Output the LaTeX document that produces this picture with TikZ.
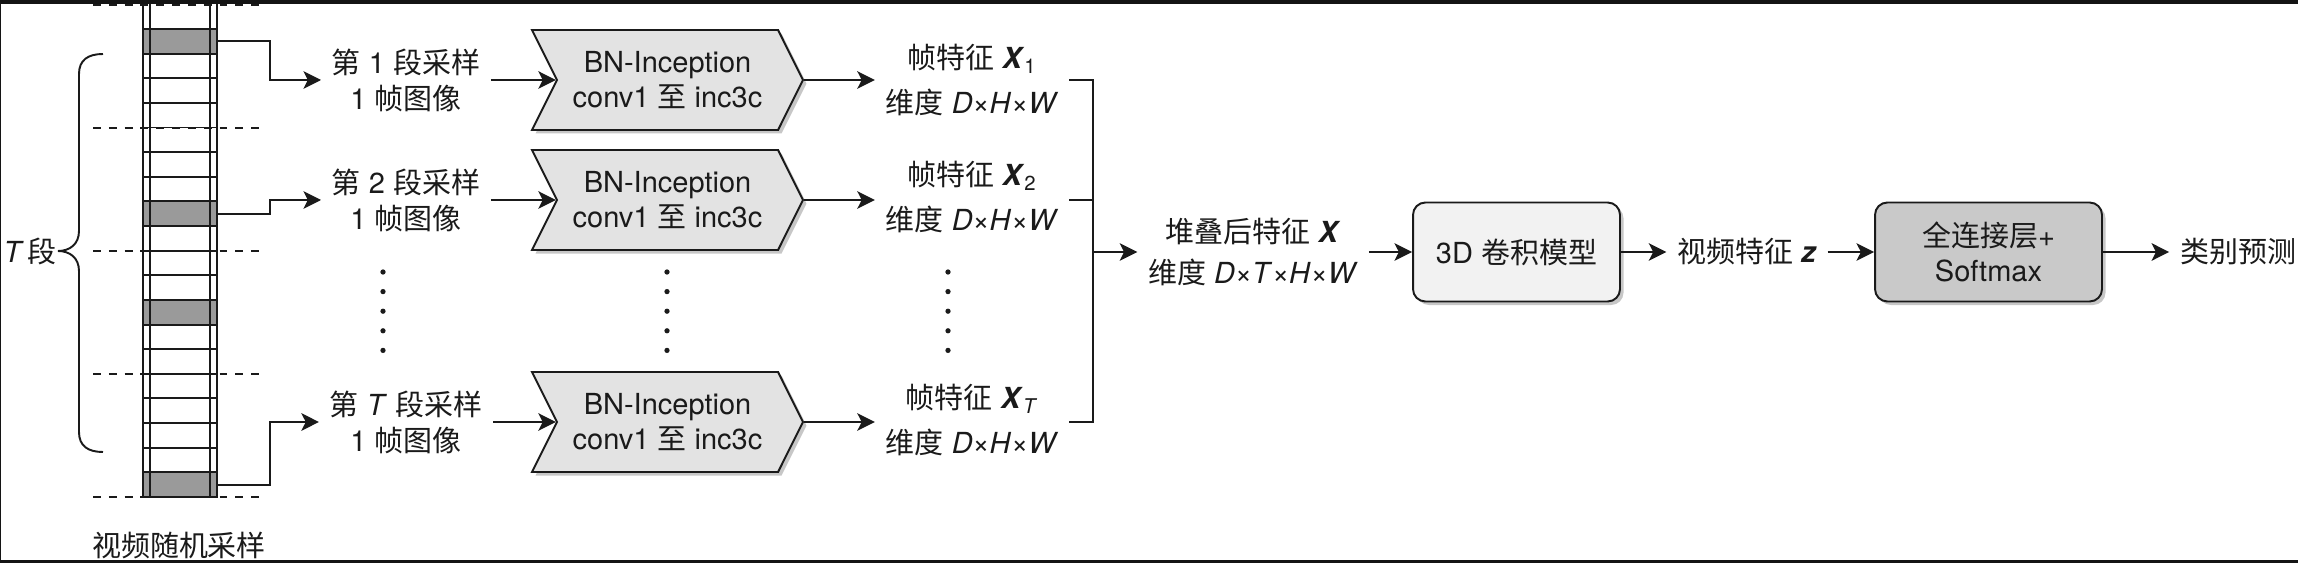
\documentclass[tikz,border=0pt]{standalone}
\usepackage{fontspec}
\setmainfont{TeX Gyre Heros}
\newfontfamily\zhfont{Noto Sans CJK SC}
\usepackage{xcolor}
\usepackage{tikz}
\usetikzlibrary{arrows.meta,shapes.symbols,shadows}
\definecolor{Ink}{HTML}{1A1A1A}
\definecolor{FrameGray}{HTML}{9A9A9A}
\definecolor{StageGray}{HTML}{E3E3E3}
\definecolor{ModelGray}{HTML}{F2F2F2}
\definecolor{HeadGray}{HTML}{C9C9C9}
\newcommand{\zh}[1]{{\zhfont #1}}

\begin{document}
\begin{tikzpicture}[x=0.02cm,y=-0.02cm,>={Stealth[length=10pt,width=10pt,inset=2.5pt]},
  every node/.style={text=Ink},
  link/.style={draw=Ink,line width=1.1pt},
  lbl/.style={align=center,inner sep=6pt,font=\fontsize{16.5}{20.5}\selectfont},
  featlbl/.style={lbl,font=\fontsize{16.5}{25.5}\selectfont},
  stacklbl/.style={lbl,font=\fontsize{16.5}{23.5}\selectfont},
  stage/.style={signal,signal from=west,signal to=east,signal pointer angle=127,
    draw=Ink,line width=1.1pt,fill=StageGray,minimum width=5.42cm,minimum height=2cm,
    align=center,font=\fontsize{16.5}{20}\selectfont,
    drop shadow={shadow xshift=2pt,shadow yshift=-2pt,fill=black,opacity=0.22}},
  model/.style={draw=Ink,line width=1.1pt,rounded corners=7pt,minimum height=1.98cm,
    align=center,font=\fontsize{16.5}{20}\selectfont,
    drop shadow={shadow xshift=2pt,shadow yshift=-2pt,fill=black,opacity=0.22}},
  framecell/.style={fill=FrameGray,minimum width=1.48cm,minimum height=0.4926cm,inner sep=0pt},
  seg/.style={draw=Ink,line width=1.1pt,dash pattern=on 4.5pt off 4.5pt}]
  \useasboundingbox (0,0) rectangle (2298,563);
  \fill[white] (0,0) rectangle (2298,563);

  \node[framecell] (pick1) at (180,41.3) {};
  \node[framecell] (pick2) at (180,213.7) {};
  \node[framecell] (pick3) at (180,312.3) {};
  \node[framecell] (pickT) at (180,484.7) {};
  \draw[link] (143,0) -- (143,497) -- (217,497) -- (217,0);
  \draw[link] (150,0) -- (150,497);
  \draw[link] (210,0) -- (210,497);
  \foreach \k in {0,...,19}
    \draw[link] (143,{29+24.63*\k}) -- (217,{29+24.63*\k});
  \foreach \y in {5,128,251,374,497}
    \draw[seg] (93,\y) -- (263,\y);

  \draw[link] (103,54) .. controls (88,54) and (79,60) .. (79,74) -- (79,231)
    .. controls (79,244) and (70,251) .. (58,251) coordinate (tip)
    .. controls (70,251) and (79,258) .. (79,271) -- (79,432)
    .. controls (79,446) and (88,452) .. (103,452);
  \node[lbl,inner sep=0pt] (nseg) at (30,251) {\textit{T}\hspace{0.12em}\zh{段}};
  \node[lbl] (sampler) at (179,545) {\zh{视频随机采样}};

  \node[lbl] (lab1) at (406,80) {\zh{第} 1 \zh{段采样}\\1 \zh{帧图像}};
  \node[lbl] (lab2) at (406,200) {\zh{第} 2 \zh{段采样}\\1 \zh{帧图像}};
  \node[lbl] (labT) at (406,422) {\zh{第} \textit{T} \zh{段采样}\\1 \zh{帧图像}};

  \node[stage] (bn1) at (667.5,80) {BN-Inception\\conv1 \zh{至} inc3c};
  \node[stage] (bn2) at (667.5,200) {BN-Inception\\conv1 \zh{至} inc3c};
  \node[stage] (bnT) at (667.5,422) {BN-Inception\\conv1 \zh{至} inc3c};

  \node[featlbl] (feat1) at (972,80) {\zh{帧特征} \textbf{\textit{X}}\textsubscript{1}\\\zh{维度} \textit{D}×\textit{H}×\textit{W}};
  \node[featlbl] (feat2) at (972,197) {\zh{帧特征} \textbf{\textit{X}}\textsubscript{2}\\\zh{维度} \textit{D}×\textit{H}×\textit{W}};
  \node[featlbl] (featT) at (972,420) {\zh{帧特征} \textbf{\textit{X}}\textsubscript{\textit{T}}\\\zh{维度} \textit{D}×\textit{H}×\textit{W}};

  \foreach \x in {383,667,948}
    \foreach \y in {272,291.6,...,370}
      \fill[Ink] (\x,\y) circle[radius=1.5pt];

  \coordinate (join) at (1093,252);
  \node[stacklbl] (stack) at (1253,252) {\zh{堆叠后特征} \textbf{\textit{X}}\\\zh{维度} \textit{D}×\textit{T}×\textit{H}×\textit{W}};
  \node[model,fill=ModelGray,minimum width=4.14cm] (conv3d) at (1516.5,252) {3D \zh{卷积模型}};
  \node[lbl] (vid) at (1747,252) {\zh{视频特征} \textbf{\textit{z}}};
  \node[model,fill=HeadGray,minimum width=4.54cm] (head) at (1988.5,252) {\zh{全连接层}+\\Softmax};
  \node[lbl] (cls) at (2238,252) {\zh{类别预测}};

  \draw[link,->] (pick1.east) -- ++(53,0) |- (lab1.west);
  \draw[link,->] (pick2.east) -- ++(53,0) |- (lab2.west);
  \draw[link,->] (pickT.east) -- ++(53,0) |- (labT.west);
  \draw[link,->] (lab1.east) -- (bn1.west);
  \draw[link,->] (lab2.east) -- (bn2.west);
  \draw[link,->] (labT.east) -- (bnT.west);
  \draw[link,->] (bn1.east) -- (bn1.east -| feat1.west);
  \draw[link,->] (bn2.east) -- (bn2.east -| feat2.west);
  \draw[link,->] (bnT.east) -- (bnT.east -| featT.west);
  \draw[link] (bn1.east -| feat1.east) -- (bn1.east -| join) -- (bnT.east -| join) -- (bnT.east -| featT.east);
  \draw[link] (bn2.east -| feat2.east) -- (bn2.east -| join);
  \draw[link,->] (join) -- (stack.west);
  \draw[link,->] (stack.east) -- (conv3d.west);
  \draw[link,->] (conv3d.east) -- (vid.west);
  \draw[link,->] (vid.east) -- (head.west);
  \draw[link,->] (head.east) -- (cls.west);

  \fill[black!92] (0,0) rectangle (2298,4);
  \fill[black!92] (0,560) rectangle (2298,563);
  \fill[black!92] (0,0) rectangle (1.5,563);
\end{tikzpicture}
\end{document}
